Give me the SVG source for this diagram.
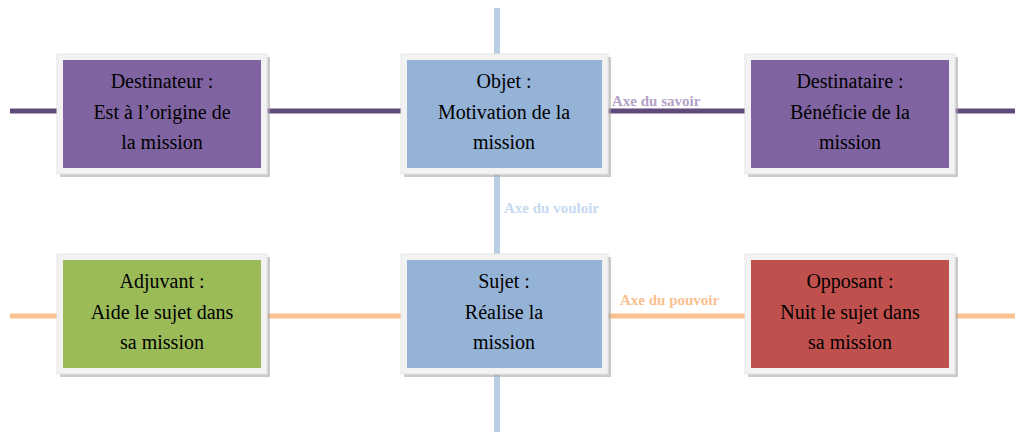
<svg xmlns="http://www.w3.org/2000/svg" width="1024" height="437" viewBox="0 0 1024 437">
<style>
.fr{fill:#f2f2f2;stroke:#e6e6e6;stroke-width:1}
.sh{fill:#a6a6a6;opacity:0.6}
.t{font-family:"Liberation Serif",serif;font-size:20px;fill:#000;text-anchor:middle}
.ax{font-family:"Liberation Serif",serif;font-size:15px;font-weight:bold}
</style>
<rect width="1024" height="437" fill="#fff"/>
<g id="connectors">
<line x1="497" y1="8" x2="497" y2="432" stroke="#b9cde5" stroke-width="6"/>
<line x1="10" y1="111" x2="1015" y2="111" stroke="#604a7b" stroke-width="5"/>
<line x1="10" y1="316" x2="1015" y2="316" stroke="#fac090" stroke-width="5"/>
<text class="ax" x="612" y="106" fill="#b3a2c7">Axe du savoir</text>
<text class="ax" x="504" y="213" fill="#c6d9f0">Axe du vouloir</text>
<text class="ax" x="620" y="305" fill="#fac090">Axe du pouvoir</text>
</g>
<g id="destinateur">
<rect class="sh" x="60" y="57" width="210" height="120"/>
<rect class="fr" x="57" y="54" width="210" height="120"/>
<rect x="63" y="60" width="198" height="108" fill="#8064a2"/>
<text class="t" x="162" y="88">Destinateur :</text>
<text class="t" x="162" y="119">Est à l’origine de</text>
<text class="t" x="162" y="149">la mission</text>
</g>
<g id="objet">
<rect class="sh" x="404" y="57" width="207" height="120"/>
<rect class="fr" x="401" y="54" width="207" height="120"/>
<rect x="407" y="60" width="195" height="108" fill="#95b3d7"/>
<text class="t" x="504" y="88">Objet :</text>
<text class="t" x="504" y="119">Motivation de la</text>
<text class="t" x="504" y="149">mission</text>
</g>
<g id="destinataire">
<rect class="sh" x="748" y="57" width="210" height="120"/>
<rect class="fr" x="745" y="54" width="210" height="120"/>
<rect x="751" y="60" width="198" height="108" fill="#8064a2"/>
<text class="t" x="850" y="88">Destinataire :</text>
<text class="t" x="850" y="119">Bénéficie de la</text>
<text class="t" x="850" y="149">mission</text>
</g>
<g id="adjuvant">
<rect class="sh" x="60" y="257" width="210" height="120"/>
<rect class="fr" x="57" y="254" width="210" height="120"/>
<rect x="63" y="260" width="198" height="108" fill="#9bbb59"/>
<text class="t" x="162" y="288">Adjuvant :</text>
<text class="t" x="162" y="319">Aide le sujet dans</text>
<text class="t" x="162" y="349">sa mission</text>
</g>
<g id="sujet">
<rect class="sh" x="404" y="257" width="207" height="120"/>
<rect class="fr" x="401" y="254" width="207" height="120"/>
<rect x="407" y="260" width="195" height="108" fill="#95b3d7"/>
<text class="t" x="504" y="288">Sujet :</text>
<text class="t" x="504" y="319">Réalise la</text>
<text class="t" x="504" y="349">mission</text>
</g>
<g id="opposant">
<rect class="sh" x="748" y="257" width="210" height="120"/>
<rect class="fr" x="745" y="254" width="210" height="120"/>
<rect x="751" y="260" width="198" height="108" fill="#c0504d"/>
<text class="t" x="850" y="288">Opposant :</text>
<text class="t" x="850" y="319">Nuit le sujet dans</text>
<text class="t" x="850" y="349">sa mission</text>
</g>
</svg>
